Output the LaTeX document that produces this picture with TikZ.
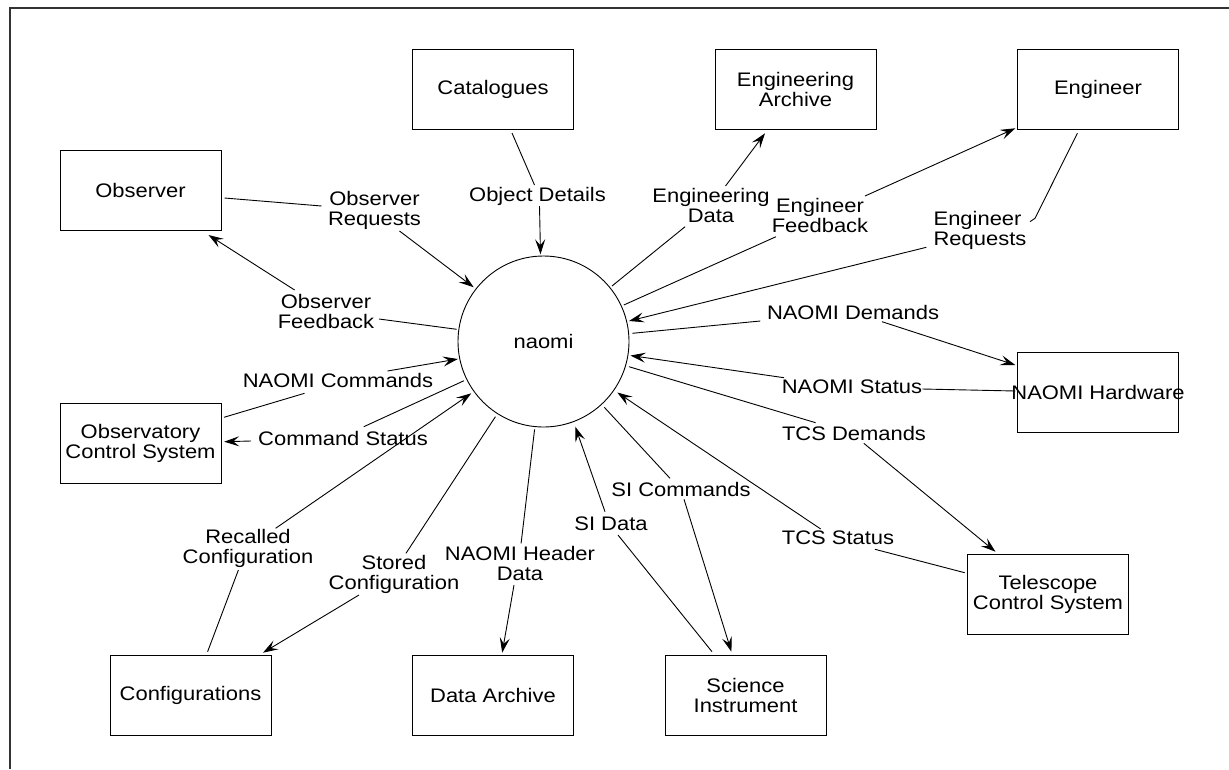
\documentclass[tikz,border=0pt]{standalone}
\usepackage{fontspec}
\setmainfont[FakeStretch=1.12]{Liberation Sans}
\usetikzlibrary{arrows.meta}
\begin{document}
\begin{tikzpicture}[x=1pt,y=-1pt,
  every node/.style={font=\fontsize{19.6}{20}\selectfont},
  box/.style={draw, line width=0.9pt, minimum width=161pt, minimum height=80pt, inner sep=0pt, align=center},
  lbl/.style={inner sep=0pt, align=center},
  conn/.style={line width=0.9pt},
  arr/.style={conn, -{Stealth[length=15pt,width=10pt,inset=6pt]}},
  frame/.style={line width=2pt, black!80}
]
\useasboundingbox (0,0) rectangle (1229,769);
\draw[frame] (9.5,769) -- (9.5,8) -- (1229,8);

% boxes
\node[box] (obs)  at (140.5,190) {Observer};
\node[box] (cat)  at (493,89)    {Catalogues};
\node[box] (ea)   at (795.5,89)  {Engineering\\Archive};
\node[box] (eng)  at (1098,89)   {Engineer};
\node[box] (hw)   at (1098,392)  {\makebox[0pt][c]{NAOMI Hardware}};
\node[box] (ocs)  at (140.5,443) {Observatory\\Control System};
\node[box] (conf) at (190.5,695) {Configurations};
\node[box] (da)   at (493,695)   {Data Archive};
\node[box] (si)   at (745.5,695) {Science\\Instrument};
\node[box] (tcs)  at (1048,594)  {Telescope\\Control System};
\node[circle, draw, line width=0.9pt, minimum size=171pt, inner sep=0pt] (naomi) at (543.5,341.5) {naomi};

% labels
\node[lbl] (orq)   at (374.5,210) {Observer\\Requests};
\node[lbl] (od)    at (537.5,196) {Object Details};
\node[lbl] (ofb)   at (326,311)   {Observer\\Feedback};
\node[lbl] (ncmd)  at (338,380)   {NAOMI Commands};
\node[lbl] (cst)   at (343,438)   {Command Status};
\node[lbl] (rc)    at (248,548)   {Recalled\\Configuration};
\node[lbl] (sc)    at (394,574)   {Stored\\Configuration};
\node[lbl] (nhd)   at (520,563)   {NAOMI Header\\Data};
\node[lbl] (sid)   at (611,524)   {SI Data};
\node[lbl] (sicmd) at (681,489)   {SI Commands};
\node[lbl] (tst)   at (838,538)   {TCS Status};
\node[lbl] (tdm)   at (854,433)   {TCS Demands};
\node[lbl] (nst)   at (852,387)   {NAOMI Status};
\node[lbl] (ndm)   at (853,312)   {NAOMI Demands};
\node[lbl, align=left] (erq) at (980,230) {Engineer\\Requests};
\node[lbl] (efb)   at (820,215)   {Engineer\\Feedback};
\node[lbl] (edt)   at (711,205)   {Engineering\\Data};

% Observer Requests
\draw[conn] ([shift={(84,8)}]obs.center) -- ([shift={(-53,-4)}]orq.center);
\draw[arr]  ([shift={(25,21)}]orq.center) -- ([shift={(-69.8,-54.2)}]naomi.center);
% Object Details
\draw[conn] ([shift={(19,44)}]cat.center) -- ([shift={(-3,-11)}]od.center);
\draw[arr]  ([shift={(2,10)}]od.center) -- ([shift={(-3,-87.2)}]naomi.center);
% Observer Feedback
\draw[conn] ([shift={(-86.8,-12.2)}]naomi.center) -- ([shift={(53,8)}]ofb.center);
\draw[arr]  ([shift={(-31.4,-21)}]ofb.center) -- ([shift={(68,45)}]obs.center);
% NAOMI Commands
\draw[conn] ([shift={(83.5,-25.7)}]ocs.center) -- ([shift={(-33.5,13.3)}]ncmd.center);
\draw[arr]  ([shift={(49.5,-9)}]ncmd.center) -- ([shift={(-85.6,17.5)}]naomi.center);
% Command Status
\draw[conn] ([shift={(-79.5,39.2)}]naomi.center) -- ([shift={(20.8,-11.3)}]cst.center);
\draw[arr]  ([shift={(-92,3)}]cst.center) -- ([shift={(83.7,-1.3)}]ocs.center);
% Recalled Configuration
\draw[conn] ([shift={(17.1,-43.3)}]conf.center) -- ([shift={(-9.6,22)}]rc.center);
\draw[arr]  ([shift={(27.6,-19.7)}]rc.center) -- ([shift={(-72.2,51.8)}]naomi.center);
% Stored Configuration
\draw[conn] ([shift={(-48.1,75.2)}]naomi.center) -- ([shift={(12,-20.7)}]sc.center);
\draw[arr]  ([shift={(-35,21)}]sc.center) -- ([shift={(72.5,-42.3)}]conf.center);
% NAOMI Header Data
\draw[conn] ([shift={(-8.9,87.8)}]naomi.center) -- ([shift={(1.1,-19.7)}]nhd.center);
\draw[arr]  ([shift={(-6,22)}]nhd.center) -- ([shift={(9.2,-42.3)}]da.center);
% SI Data
\draw[conn] ([shift={(-33.5,-43.3)}]si.center) -- ([shift={(7,11)}]sid.center);
\draw[arr]  ([shift={(-6,-12.3)}]sid.center) -- ([shift={(31.8,85.2)}]naomi.center);
% SI Commands
\draw[conn] ([shift={(60.8,65.8)}]naomi.center) -- ([shift={(-11,-10.7)}]sicmd.center);
\draw[arr]  ([shift={(3,10.3)}]sicmd.center) -- ([shift={(-14.1,-43.3)}]si.center);
% TCS Status
\draw[conn] ([shift={(-83.3,-21.3)}]tcs.center) -- ([shift={(37,11.3)}]tst.center);
\draw[arr]  ([shift={(-17.3,-9)}]tst.center) -- ([shift={(73.8,51)}]naomi.center);
% TCS Demands
\draw[conn] ([shift={(85.5,25.2)}]naomi.center) -- ([shift={(-38.4,-10.3)}]tdm.center);
\draw[arr]  ([shift={(9.8,10.3)}]tdm.center) -- ([shift={(-52.5,-42.3)}]tcs.center);
% NAOMI Status
\draw[conn] ([shift={(-82.7,-1)}]hw.center) -- ([shift={(70.4,2)}]nst.center);
\draw[arr]  ([shift={(-68,-9.3)}]nst.center) -- ([shift={(87,14)}]naomi.center);
% NAOMI Demands
\draw[conn] ([shift={(88.8,-8.2)}]naomi.center) -- ([shift={(-92.7,9)}]ndm.center);
\draw[arr]  ([shift={(29,9.7)}]ndm.center) -- ([shift={(-82.7,-27)}]hw.center);
% Engineer Requests
\draw[conn] ([shift={(-20.6,44.3)}]eng.center) -- ([shift={(55,-11.7)}]erq.center) -- ([shift={(50,-8.3)}]erq.center);
\draw[arr]  ([shift={(-53.7,17.3)}]erq.center) -- ([shift={(85.5,-20.5)}]naomi.center);
% Engineer Feedback
\draw[conn] ([shift={(80.3,-36.5)}]naomi.center) -- ([shift={(-44,21.7)}]efb.center);
\draw[arr]  ([shift={(45,-19)}]efb.center) -- ([shift={(-82.7,39.3)}]eng.center);
% Engineering Data
\draw[conn] ([shift={(68.5,-55.5)}]naomi.center) -- ([shift={(-25.9,21.7)}]edt.center);
\draw[arr]  ([shift={(14.5,-19)}]edt.center) -- ([shift={(-30.5,44.3)}]ea.center);
\end{tikzpicture}
\end{document}
